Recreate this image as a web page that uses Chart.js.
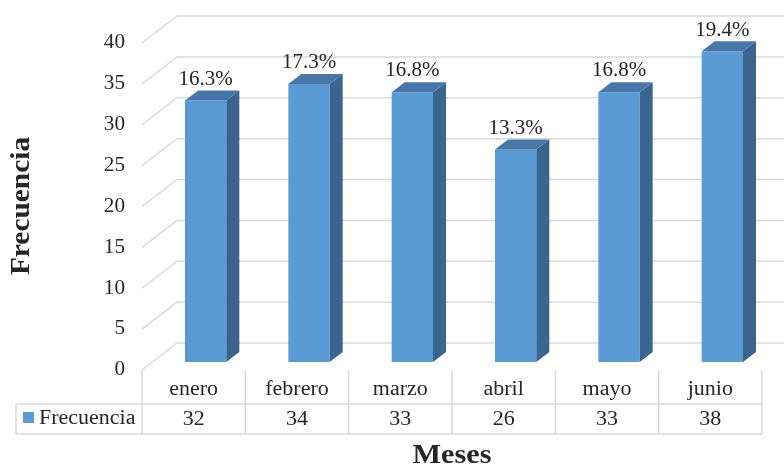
<!DOCTYPE html>
<html>
<head>
<meta charset="utf-8">
<script src="https://cdn.jsdelivr.net/npm/chart.js@4.4.1/dist/chart.umd.min.js"></script>
<style>
  html, body { margin: 0; padding: 0; background: #fff; }
  #wrap { width: 784px; height: 466px; }
</style>
</head>
<body>
<div id="wrap"><canvas id="chart" width="784" height="466"></canvas></div>
<script>
const meses = ['enero', 'febrero', 'marzo', 'abril', 'mayo', 'junio'];
const frecuencia = [32, 34, 33, 26, 33, 38];
const porcentaje = [16.3, 17.3, 16.8, 13.3, 16.8, 19.4];
const yTicks = [0, 5, 10, 15, 20, 25, 30, 35, 40];

const FRONT = '#5B9BD5', TOP = '#4777A8', SIDE = '#3A658F';
const GRID = '#D9D9D9', TXT = '#262626';
const SERIF = '"Liberation Serif", "Times New Roman", serif';

// 3d offsets relative to the bar plane
const toFront = { dx: -10, dy: 8 };
const toBack = { dx: 25, dy: -19 };
const depth = { dx: 13, dy: -10 };

// text in the original is a little wider than Liberation Serif
function text(ctx, s, x, y, align, sx) {
  ctx.save();
  ctx.translate(x, y);
  ctx.scale(sx || 1.1, 1);
  ctx.textAlign = align;
  ctx.textBaseline = 'middle';
  ctx.fillText(s, 0, 0);
  ctx.restore();
}

const decor = {
  id: 'decor',
  beforeDatasetsDraw(chart) {
    const { ctx, scales: { x, y }, chartArea } = chart;
    ctx.save();
    // back wall + slanted gridlines
    ctx.strokeStyle = GRID;
    ctx.lineWidth = 1.5;
    ctx.fillStyle = TXT;
    ctx.font = '20px ' + SERIF;
    yTicks.forEach(v => {
      const py = y.getPixelForValue(v);
      const fx = chartArea.left - 12, fy = py + toFront.dy;
      const bx = chartArea.left + toBack.dx - 2, by = py + toBack.dy;
      ctx.beginPath();
      ctx.moveTo(fx, fy);
      ctx.lineTo(bx, by);
      ctx.lineTo(784, by);
      ctx.stroke();
      text(ctx, String(v), 125, fy, 'right', 1.06);
    });

    // data table
    const cw = x.getPixelForValue(1) - x.getPixelForValue(0);
    const left = chartArea.left - 12;
    const top = y.getPixelForValue(0) + toFront.dy;
    const mid = 404, bot = 434;
    ctx.beginPath();
    for (let i = 0; i <= meses.length; i++) {
      const lx = left + i * cw;
      ctx.moveTo(lx, top);
      ctx.lineTo(lx, bot);
    }
    ctx.moveTo(16, mid); ctx.lineTo(left + meses.length * cw, mid);
    ctx.moveTo(16, bot); ctx.lineTo(left + meses.length * cw, bot);
    ctx.moveTo(16, mid); ctx.lineTo(16, bot);
    ctx.stroke();

    meses.forEach((m, i) => {
      const cx = left + (i + 0.5) * cw;
      text(ctx, m, cx, 390, 'center');
      text(ctx, String(frecuencia[i]), cx, 420, 'center');
    });
    ctx.fillStyle = FRONT;
    ctx.fillRect(23, 412, 11, 11);
    ctx.fillStyle = TXT;
    text(ctx, 'Frecuencia', 39, 419, 'left');

    // axis titles
    ctx.font = 'bold 28px ' + SERIF;
    text(ctx, 'Meses', 452, 456, 'center', 1.08);
    ctx.translate(22, 206);
    ctx.rotate(-Math.PI / 2);
    text(ctx, 'Frecuencia', 0, 0, 'center', 1.05);
    ctx.restore();
  },
  afterDatasetsDraw(chart) {
    const { ctx } = chart;
    const meta = chart.getDatasetMeta(0);
    ctx.save();
    meta.data.forEach((bar, i) => {
      const { x: cx, y: ty, base, width } = bar.getProps(['x', 'y', 'base', 'width'], true);
      const l = cx - width / 2, r = cx + width / 2;
      // side
      ctx.fillStyle = SIDE;
      ctx.beginPath();
      ctx.moveTo(r, ty);
      ctx.lineTo(r + depth.dx, ty + depth.dy);
      ctx.lineTo(r + depth.dx, base + depth.dy);
      ctx.lineTo(r, base);
      ctx.closePath();
      ctx.fill();
      // top
      ctx.fillStyle = TOP;
      ctx.beginPath();
      ctx.moveTo(l, ty);
      ctx.lineTo(l + depth.dx, ty + depth.dy);
      ctx.lineTo(r + depth.dx, ty + depth.dy);
      ctx.lineTo(r, ty);
      ctx.closePath();
      ctx.fill();
      // label
      ctx.fillStyle = TXT;
      ctx.font = '20px ' + SERIF;
      text(ctx, porcentaje[i].toFixed(1) + '%', cx, ty + depth.dy - 11, 'center', 1.05);
    });
    ctx.restore();
  }
};

new Chart(document.getElementById('chart'), {
  type: 'bar',
  data: {
    labels: meses,
    datasets: [{
      label: 'Frecuencia',
      data: frecuencia,
      backgroundColor: FRONT,
      borderWidth: 0,
      categoryPercentage: 1,
      barPercentage: 0.4
    }]
  },
  options: {
    responsive: false,
    animation: false,
    layout: { padding: { left: 154, right: 10, top: 35, bottom: 104 } },
    scales: {
      x: { display: false },
      y: { display: false, min: 0, max: 40 }
    },
    plugins: {
      legend: { display: false },
      tooltip: { enabled: false }
    }
  },
  plugins: [decor]
});
</script>
</body>
</html>
